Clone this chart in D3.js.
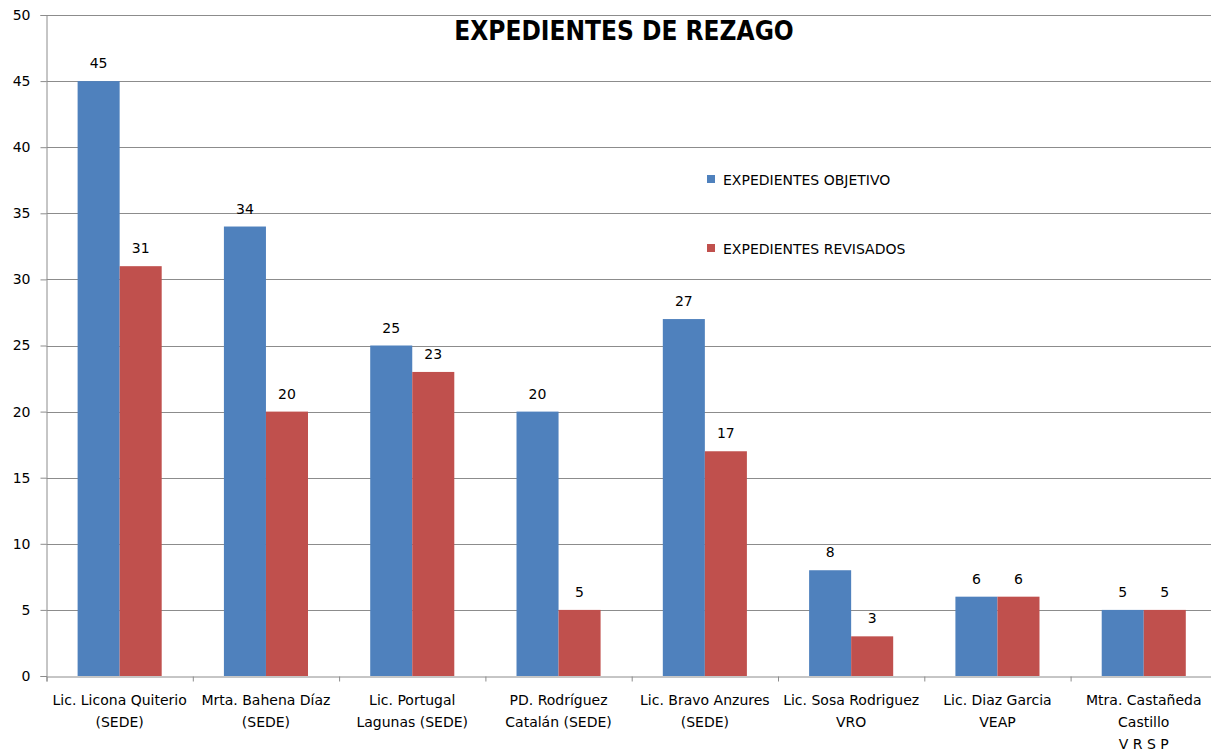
<!DOCTYPE html>
<html><head><meta charset="utf-8">
<script src="https://cdn.jsdelivr.net/npm/d3@7"></script>
<style>body{margin:0;background:#fff}svg{display:block}</style>
</head><body>
<svg id="c" width="1211" height="756"></svg>
<script>
const categories = [
  ["Lic. Licona Quiterio","(SEDE)"],
  ["Mrta. Bahena Díaz","(SEDE)"],
  ["Lic. Portugal","Lagunas (SEDE)"],
  ["PD. Rodríguez","Catalán (SEDE)"],
  ["Lic. Bravo Anzures","(SEDE)"],
  ["Lic. Sosa Rodriguez","VRO"],
  ["Lic. Diaz Garcia","VEAP"],
  ["Mtra. Castañeda","Castillo","V R S P"]
];
const seriesNames = ["EXPEDIENTES OBJETIVO","EXPEDIENTES REVISADOS"];
const objetivo = [45,34,25,20,27,8,6,5];
const revisados = [31,20,23,5,17,3,6,5];
const yTicks = [0,5,10,15,20,25,30,35,40,45,50];
const colors = ["#4F81BD","#C0504D"];
const title = "EXPEDIENTES DE REZAGO";

(function(){
const svg = d3.select("#c");
const font = "'DejaVu Sans',sans-serif";
const fontC = "'DejaVu Sans Condensed','DejaVu Sans',sans-serif";
const plotLeft = 46.5, plotTop = 15, plotBottom = 676;
const step = 146.3;
const plotRight = plotLeft + step*categories.length;
const idx = d3.range(categories.length);

const x0 = d3.scaleBand().domain(idx).range([plotLeft, plotRight]).padding(0);
const x1 = d3.scaleBand().domain([0,1]).range([0, x0.bandwidth()]).paddingInner(0).paddingOuter(0.74);
const y = d3.scaleLinear().domain([0,50]).range([plotBottom, plotTop]);

// gridlines
svg.append("g").selectAll("line").data(yTicks.filter(d=>d>0)).join("line")
  .attr("x1", plotLeft).attr("x2", 1211)
  .attr("y1", d=>Math.round(y(d))+0.5).attr("y2", d=>Math.round(y(d))+0.5)
  .attr("stroke","#8c8c8c").attr("stroke-width",1);

// y axis
const yAxis = d3.axisLeft(y).tickValues(yTicks).tickSize(6).tickPadding(10);
const gy = svg.append("g").attr("transform",`translate(${plotLeft},0)`).call(yAxis);
gy.select(".domain").attr("stroke","#8c8c8c");
gy.selectAll(".tick line").attr("stroke","#8c8c8c");
gy.selectAll(".tick text").attr("font-family",font).attr("font-size",14).attr("fill","#000");

// bars
const data = [objetivo, revisados];
data.forEach((vals, s) => {
  svg.append("g").selectAll("rect").data(vals).join("rect")
    .attr("x", (d,i)=>x0(i)+x1(s))
    .attr("width", x1.bandwidth())
    .attr("y", d=>y(d))
    .attr("height", d=>plotBottom - y(d))
    .attr("fill", colors[s]);
  svg.append("g").selectAll("text").data(vals).join("text")
    .attr("x", (d,i)=>x0(i)+x1(s)+x1.bandwidth()/2)
    .attr("y", d=>y(d)-13)
    .attr("text-anchor","middle")
    .attr("font-family",font).attr("font-size",14).attr("fill","#000")
    .text(d=>d);
});

// x axis
const xAxis = d3.axisBottom(d3.scaleLinear().domain([0,categories.length]).range([plotLeft,plotRight]))
  .tickValues(d3.range(categories.length+1)).tickSize(5).tickFormat("");
const gx = svg.append("g").attr("transform",`translate(0,${plotBottom+0.5})`).call(xAxis);
gx.select(".domain").attr("stroke","#8c8c8c");
gx.selectAll(".tick line").attr("stroke","#8c8c8c");

// category labels
const cl = svg.append("g").selectAll("text").data(categories).join("text")
  .attr("text-anchor","middle")
  .attr("font-family",font).attr("font-size",14).attr("fill","#000");
cl.each(function(lines,i){
  const t = d3.select(this);
  lines.forEach((ln,k)=>{
    t.append("tspan").attr("x", x0(i)+x0.bandwidth()/2).attr("y", 705 + k*22).text(ln);
  });
});

// title
svg.append("text").attr("x",624).attr("y",40).attr("text-anchor","middle")
  .attr("font-family",fontC).attr("font-weight","bold").attr("font-size",26).attr("fill","#000")
  .text(title);

// legend
const leg = svg.append("g").selectAll("g").data(seriesNames).join("g")
  .attr("transform",(d,i)=>`translate(707,${175 + i*69})`);
leg.append("rect").attr("width",8).attr("height",8).attr("fill",(d,i)=>colors[i]);
leg.append("text").attr("x",16).attr("y",9.5)
  .attr("font-family",font).attr("font-size",14).attr("fill","#000").text(d=>d);
})();
</script>
</body></html>
